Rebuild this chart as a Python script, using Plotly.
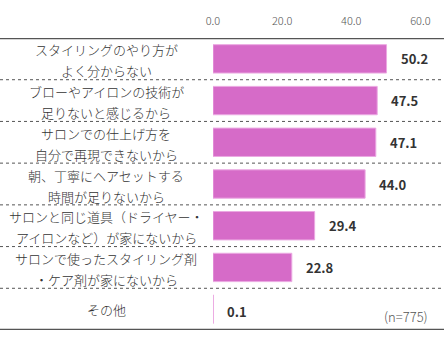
import plotly.graph_objects as go

categories = [
    "スタイリングのやり方が<br>よく分からない",
    "ブローやアイロンの技術が<br>足りないと感じるから",
    "サロンでの仕上げ方を<br>自分で再現できないから",
    "朝、丁寧にヘアセットする<br>時間が足りないから",
    "サロンと同じ道具（ドライヤー・<br>アイロンなど）が家にないから",
    "サロンで使ったスタイリング剤<br>・ケア剤が家にないから",
    "その他",
]
values = [50.2, 47.5, 47.1, 44.0, 29.4, 22.8, 0.1]
tick_values = [0, 20, 40, 60]
note = "(n=775)"

FONT = "Noto Sans CJK JP"
W, H = 444, 353
L, R, T, B = 213, 0, 38, 23
px_per_unit = 3.457
xmax = (W - L - R) / px_per_unit
PW = W - L - R

fig = go.Figure()
fig.add_trace(go.Bar(
    x=values, y=list(range(len(values))), orientation="h",
    width=0.68,
    marker=dict(color="#D66BC8", line=dict(color="#EBA9E2", width=1)),
    hoverinfo="skip",
))

ann = []
for i, (cat, v) in enumerate(zip(categories, values)):
    lines = cat.split("<br>")
    if len(lines) == 1:
        shifts = [0]
    else:
        shifts = [9, -12]
    for ln, s in zip(lines, shifts):
        ann.append(dict(x=(106 - L) / PW, xref="paper", y=i, yref="y", text=ln,
                        xanchor="center", yanchor="middle", yshift=s, showarrow=False,
                        font=dict(family=FONT, size=13, color="#333333", weight=300)))
    ann.append(dict(x=v, xref="x", y=i, yref="y", text=f"{v:.1f}",
                    xanchor="left", yanchor="middle", xshift=12,
                    yshift=-2 if i == len(values) - 1 else 0, showarrow=False,
                    font=dict(family=FONT, size=13, color="#333333", weight="bold")))
ann.append(dict(x=(430 - L) / PW, xref="paper", y=len(values) - 1, yref="y",
                text=note, xanchor="right", yanchor="middle", yshift=-7, showarrow=False,
                font=dict(family=FONT, size=13, color="#555555", weight=300)))

shapes = []
x0p = -L / PW
for k in range(1, len(values)):
    shapes.append(dict(type="line", xref="paper", yref="y", x0=x0p, x1=1,
                       y0=k - 0.5, y1=k - 0.5,
                       line=dict(color="#555555", width=1, dash="dot")))
for yy in [-0.5, len(values) - 0.5]:
    shapes.append(dict(type="line", xref="paper", yref="y", x0=x0p, x1=1,
                       y0=yy, y1=yy, line=dict(color="#555555", width=2.5)))

fig.update_layout(
    width=W, height=H,
    margin=dict(l=L, r=R, t=T, b=B),
    paper_bgcolor="white", plot_bgcolor="white",
    showlegend=False,
    annotations=ann, shapes=shapes,
    xaxis=dict(range=[0, xmax], side="top", tickvals=tick_values,
               ticktext=[f"{t:.1f}" for t in tick_values],
               showgrid=False, zeroline=False, showline=False, ticks="",
               ticklabelstandoff=10,
               tickfont=dict(family=FONT, size=11, color="#555555", weight=300)),
    yaxis=dict(range=[len(values) - 0.5, -0.5], showticklabels=False,
               showgrid=False, zeroline=False, showline=False, ticks=""),
)
fig.write_html("out.html")
